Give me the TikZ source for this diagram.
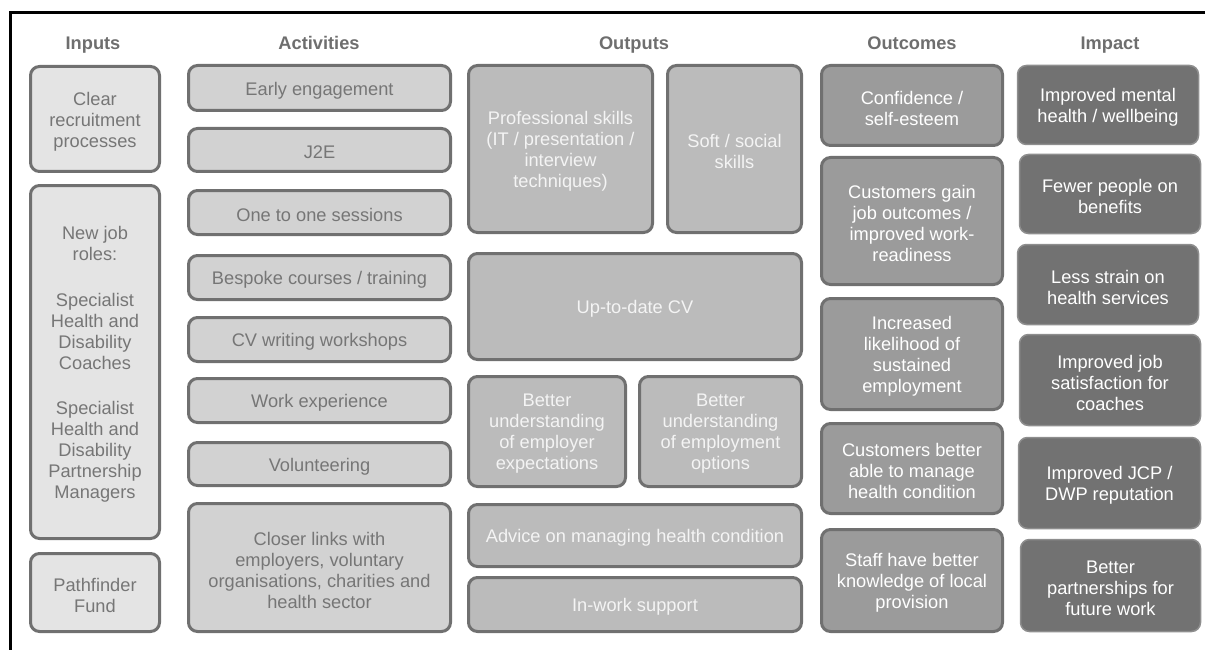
\documentclass[tikz,border=0pt]{standalone}
\usepackage{fontspec}
\setmainfont{Liberation Sans}
\definecolor{inFill}{HTML}{E4E4E4}
\definecolor{acFill}{HTML}{D2D2D2}
\definecolor{opFill}{HTML}{BBBBBB}
\definecolor{ocFill}{HTML}{9B9B9B}
\definecolor{imFill}{HTML}{727272}
\definecolor{bordc}{HTML}{707070}
\definecolor{txtGray}{HTML}{767676}
\definecolor{hdGray}{HTML}{6E6E6E}
\definecolor{txtLight}{HTML}{F4F4F4}
\tikzset{
  bx/.style={draw=bordc, line width=3pt, rounded corners=9pt, inner sep=0pt},
  tx/.style={align=center, inner sep=0pt, font=\fontsize{18.25}{21}\selectfont},
  inbx/.style={bx, fill=inFill},
  acbx/.style={bx, fill=acFill},
  opbx/.style={bx, fill=opFill},
  ocbx/.style={bx, fill=ocFill},
  imbx/.style={bx, fill=imFill, draw=imFill!80!white, line width=1.5pt},
  intx/.style={tx, text=txtGray},
  actx/.style={tx, text=txtGray},
  optx/.style={tx, text=txtLight},
  octx/.style={tx, text=white},
  imtx/.style={tx, text=white},
  hd/.style={font=\fontsize{18.25}{21}\selectfont\bfseries, text=hdGray, anchor=base, inner sep=0pt}
}
% #1 name, #2 kind (in/ac/op/oc/im), #3-#6 box edges, #7 text
\newcommand\mybox[7]{%
  \node[#2bx, minimum width={#5-#3-3}, minimum height={#6-#4-3}] (#1) at ({(#3+#5)/2},{(#4+#6)/2}) {};
  \node[#2tx] (#1t) at ([yshift=-2.5pt]#1.center) {#7};}
\begin{document}
\begin{tikzpicture}[x=1pt,y=-1pt]
\useasboundingbox (0,0) rectangle (1205,650);
% frame
\draw[line width=3pt, black] (10.5,650) -- (10.5,13) -- (1205,13);
% headers
\node[hd] (hin) at (93,50) {Inputs};
\node[hd] (hac) at (319,50) {Activities};
\node[hd] (hop) at (634,50) {Outputs};
\node[hd] (hoc) at (912,50) {Outcomes};
\node[hd] (him) at (1110,50) {Impact};
% inputs
\mybox{in1}{in}{29}{65}{161}{173}{Clear\\recruitment\\processes}
\mybox{in2}{in}{29}{184}{161}{540}{New job\\roles:\\[25pt]Specialist\\Health and\\Disability\\Coaches\\[24pt]Specialist\\Health and\\Disability\\Partnership\\Managers}
\mybox{in3}{in}{29}{552}{161}{633}{Pathfinder\\Fund}
% activities
\mybox{a1}{ac}{187}{64}{452}{112}{Early engagement}
\mybox{a2}{ac}{187}{127}{452}{173}{J2E}
\mybox{a3}{ac}{187}{189}{452}{236}{One to one sessions}
\mybox{a4}{ac}{187}{254}{452}{301}{Bespoke courses / training}
\mybox{a5}{ac}{187}{316}{452}{363}{CV writing workshops}
\mybox{a6}{ac}{187}{377}{452}{424}{Work experience}
\mybox{a7}{ac}{187}{441}{452}{487}{Volunteering}
\mybox{a8}{ac}{187}{502}{452}{633}{Closer links with\\employers, voluntary\\organisations, charities and\\health sector}
% outputs
\mybox{o1}{op}{467}{64}{654}{234}{Professional skills\\(IT / presentation /\\interview\\techniques)}
\mybox{o2}{op}{666}{64}{803}{234}{Soft / social\\skills}
\mybox{o3}{op}{467}{252}{803}{361}{Up-to-date CV}
\mybox{o4}{op}{467}{375}{627}{488}{Better\\understanding\\of employer\\expectations}
\mybox{o5}{op}{638}{375}{803}{488}{Better\\understanding\\of employment\\options}
\mybox{o6}{op}{467}{503}{803}{568}{Advice on managing health condition}
\mybox{o7}{op}{467}{576}{803}{633}{In-work support}
% outcomes
\mybox{c1}{oc}{820}{64}{1004}{147}{Confidence /\\self-esteem}
\mybox{c2}{oc}{820}{156}{1004}{286}{Customers gain\\job outcomes /\\improved work-\\readiness}
\mybox{c3}{oc}{820}{297}{1004}{411}{Increased\\likelihood of\\sustained\\employment}
\mybox{c4}{oc}{820}{422}{1004}{515}{Customers better\\able to manage\\health condition}
\mybox{c5}{oc}{820}{528}{1004}{633}{Staff have better\\knowledge of local\\provision}
% impact
\mybox{i1}{im}{1016}{64}{1200}{146}{Improved mental\\health / wellbeing}
\mybox{i2}{im}{1018}{153}{1202}{235}{Fewer people on\\benefits}
\mybox{i3}{im}{1016}{243}{1200}{326}{Less strain on\\health services}
\mybox{i4}{im}{1018}{333}{1202}{427}{Improved job\\satisfaction for\\coaches}
\mybox{i5}{im}{1017}{436}{1202}{530}{Improved JCP /\\DWP reputation}
\mybox{i6}{im}{1019}{538}{1202}{633}{Better\\partnerships for\\future work}
\end{tikzpicture}
\end{document}
